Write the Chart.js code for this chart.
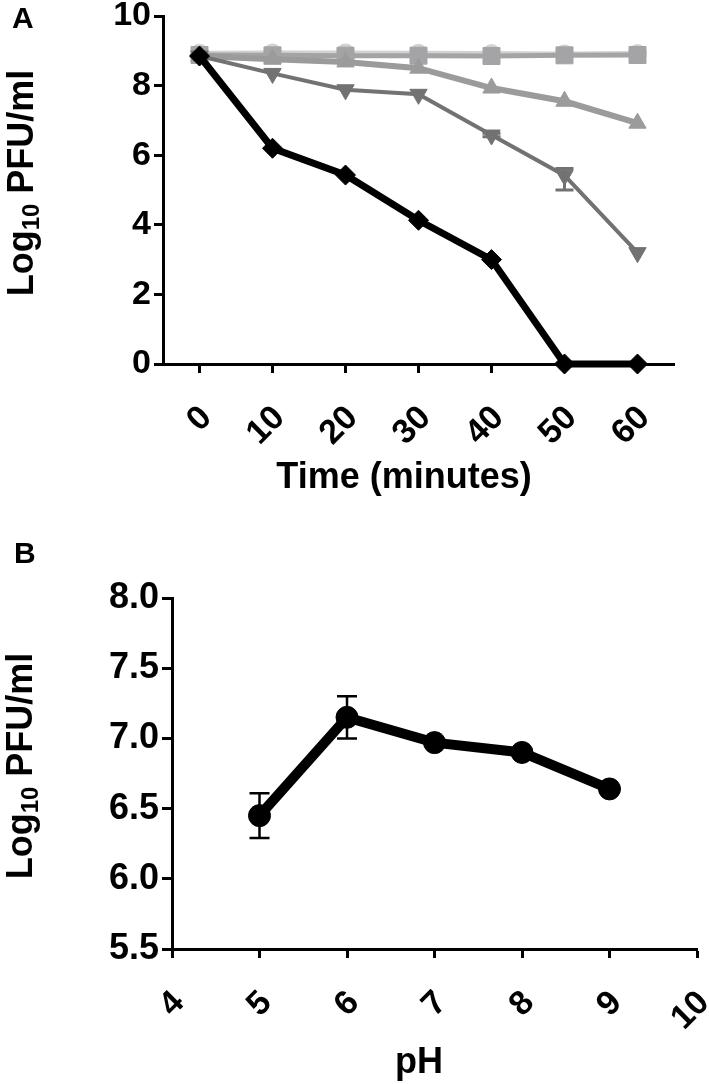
<!DOCTYPE html>
<html>
<head>
<meta charset="utf-8">
<script src="https://cdn.jsdelivr.net/npm/chart.js@4.4.1/dist/chart.umd.min.js"></script>
<style>
  html, body { margin: 0; padding: 0; background: #fff; }
  #caja { position: relative; width: 709px; height: 1084px; }
  canvas { position: absolute; left: 0; }
  #graficoA { top: 0; }
  #graficoB { top: 540px; }
</style>
</head>
<body>
<div id="caja">
  <canvas id="graficoA" width="709" height="540"></canvas>
  <canvas id="graficoB" width="709" height="544"></canvas>
</div>
<script>
// PANEL A - estabilidad en el tiempo
const tiempos = [0, 10, 20, 30, 40, 50, 60];
const ticksTiempo = [0, 10, 20, 30, 40, 50, 60];
const ticksLogA = [0, 2, 4, 6, 8, 10];
const serieCirculo = [8.93, 8.94, 8.94, 8.93, 8.92, 8.91, 8.92];
const serieCuadrado = [8.88, 8.87, 8.86, 8.86, 8.85, 8.87, 8.88];
const serieTriArriba = [8.85, 8.76, 8.68, 8.5, 7.93, 7.55, 6.92];
const serieTriAbajo = [8.85, 8.35, 7.88, 7.75, 6.58, 5.42, 3.2];
const errSupTriAbajo = [0, 0, 0, 0, 0.05, 0.2, 0];
const errInfTriAbajo = [0, 0, 0, 0, 0.05, 0.42, 0];
const serieRombo = [8.85, 6.2, 5.43, 4.13, 3.0, 0, 0];

// PANEL B - estabilidad al pH
const valoresPH = [5, 6, 7, 8, 9];
const ticksPH = [4, 5, 6, 7, 8, 9, 10];
const ticksLogB = [5.5, 6.0, 6.5, 7.0, 7.5, 8.0];
const seriePH = [6.45, 7.15, 6.97, 6.9, 6.64];
const errPH = [0.16, 0.15, 0.02, 0.02, 0.02];

const FUENTE = "'Liberation Sans', Arial, Helvetica, sans-serif";

function puntos(xs, ys) { return xs.map((x, i) => ({ x: x, y: ys[i] })); }

// barras de error + textos (letra, titulos con subindice)
const plugTextos = {
    id: 'textos',
    afterDatasetsDraw(chart) {
        const ctx = chart.ctx, sx = chart.scales.x, sy = chart.scales.y;
        chart.data.datasets.forEach(ds => {
            if (!ds.errSup) return;
            ctx.save();
            ctx.strokeStyle = ds.borderColor;
            ctx.lineWidth = ds.anchoError || 3;
            ds.data.forEach((p, i) => {
                const eS = ds.errSup[i], eI = ds.errInf[i];
                if (!eS && !eI) return;
                const x = sx.getPixelForValue(p.x);
                const y1 = sy.getPixelForValue(p.y + eS), y2 = sy.getPixelForValue(p.y - eI);
                const c = ds.capError || 9;
                ctx.beginPath();
                ctx.moveTo(x, y1); ctx.lineTo(x, y2);
                ctx.moveTo(x - c, y1); ctx.lineTo(x + c, y1);
                ctx.moveTo(x - c, y2); ctx.lineTo(x + c, y2);
                ctx.stroke();
            });
            ctx.restore();
        });
    },
    afterDraw(chart, args, o) {
        const ctx = chart.ctx;
        ctx.save();
        ctx.fillStyle = '#000';
        ctx.textBaseline = 'alphabetic';
        ctx.font = `bold 30px ${FUENTE}`;
        ctx.textAlign = 'left';
        ctx.fillText(o.letra, o.letraX, o.letraY);
        ctx.font = `bold 36px ${FUENTE}`;
        ctx.textAlign = 'center';
        ctx.fillText(o.tituloX, o.txX, o.txY);
        // titulo Y: Log10 PFU/ml con subindice
        ctx.translate(o.tyX, o.tyY);
        ctx.rotate(-Math.PI / 2);
        const f1 = `bold 36px ${FUENTE}`, f2 = `bold 24px ${FUENTE}`;
        ctx.font = f1;
        const w1 = ctx.measureText('Log').width, w3 = ctx.measureText(' PFU/ml').width;
        ctx.font = f2;
        const w2 = ctx.measureText('10').width;
        const x0 = -(w1 + w2 + w3) / 2;
        ctx.textAlign = 'left';
        ctx.font = f1; ctx.fillText('Log', x0, 0);
        ctx.font = f2; ctx.fillText('10', x0 + w1, 6);
        ctx.font = f1; ctx.fillText(' PFU/ml', x0 + w1 + w2, 0);
        ctx.restore();
    }
};

function serie(datos, color, estilo, radio, ancho, extra) {
    return Object.assign({
        data: datos, borderColor: color, backgroundColor: color,
        pointBackgroundColor: color, pointBorderColor: color, pointBorderWidth: 1,
        pointStyle: estilo, pointRadius: radio, pointHoverRadius: radio,
        borderWidth: ancho, tension: 0, clip: false
    }, extra || {});
}

function ejeX(min, max, ticks, alto, tam) {
    return {
        type: 'linear', min: min, max: max,
        afterBuildTicks: s => { s.ticks = ticks.map(v => ({ value: v })); },
        afterFit: s => { s.height = alto; s.paddingLeft = 0; s.paddingRight = 0; },
        border: { display: true, color: '#000', width: 3 },
        grid: { drawOnChartArea: false, drawTicks: true, tickLength: 9, tickWidth: 3, tickColor: '#000' },
        ticks: { color: '#000', padding: 25, labelOffset: 7, maxRotation: 45, minRotation: 45, font: { family: FUENTE, size: tam, weight: 'bold' } }
    };
}

function ejeY(min, max, ticks, ancho, tam, largo, dec) {
    return {
        type: 'linear', min: min, max: max,
        afterBuildTicks: s => { s.ticks = ticks.map(v => ({ value: v })); },
        afterFit: s => { s.width = ancho; s.paddingTop = 0; s.paddingBottom = 0; },
        border: { display: true, color: '#000', width: 3 },
        grid: { drawOnChartArea: false, drawTicks: true, tickLength: largo, tickWidth: 3, tickColor: '#000' },
        ticks: { color: '#000', padding: 3, callback: v => v.toFixed(dec), font: { family: FUENTE, size: tam, weight: 'bold' } }
    };
}

const opcionesBase = {
    responsive: false, animation: false,
    plugins: { legend: { display: false }, tooltip: { enabled: false } }
};

new Chart(document.getElementById('graficoA'), {
    type: 'line',
    data: {
        datasets: [
            serie(puntos(tiempos, serieRombo), '#000000', 'rectRot', 10, 7),
            serie(puntos(tiempos, serieTriAbajo), '#727272', 'triangle', 10, 4,
                  { pointRotation: 180, errSup: errSupTriAbajo, errInf: errInfTriAbajo, capError: 9, anchoError: 3 }),
            serie(puntos(tiempos, serieTriArriba), '#9b9b9b', 'triangle', 10, 6),
            serie(puntos(tiempos, serieCuadrado), '#a4a4a6', 'rect', 12, 5),
            serie(puntos(tiempos, serieCirculo), '#d2d2d2', 'circle', 9, 5)
        ]
    },
    options: Object.assign({}, opcionesBase, {
        layout: { padding: { left: 0, top: 16, right: 35, bottom: 0 } },
        scales: {
            x: ejeX(-5, 65, ticksTiempo, 176, 34),
            y: ejeY(0, 10, ticksLogA, 163, 34, 9, 0)
        },
        plugins: Object.assign({}, opcionesBase.plugins, {
            textos: { letra: 'A', letraX: 12, letraY: 28, tituloX: 'Time (minutes)', txX: 404, txY: 488, tyX: 33, tyY: 183 }
        })
    }),
    plugins: [plugTextos]
});

new Chart(document.getElementById('graficoB'), {
    type: 'line',
    data: {
        datasets: [
            serie(puntos(valoresPH, seriePH), '#000000', 'circle', 11, 10,
                  { errSup: errPH, errInf: errPH, capError: 10, anchoError: 2.5 })
        ]
    },
    options: Object.assign({}, opcionesBase, {
        layout: { padding: { left: 0, top: 58, right: 12, bottom: 0 } },
        scales: {
            x: ejeX(4, 10, ticksPH, 135, 34),
            y: ejeY(5.5, 8.0, ticksLogB, 172, 36, 10, 1)
        },
        plugins: Object.assign({}, opcionesBase.plugins, {
            textos: { letra: 'B', letraX: 14, letraY: 23, tituloX: 'pH', txX: 419, txY: 533, tyX: 32, tyY: 226 }
        })
    }),
    plugins: [plugTextos]
});
</script>
</body>
</html>
